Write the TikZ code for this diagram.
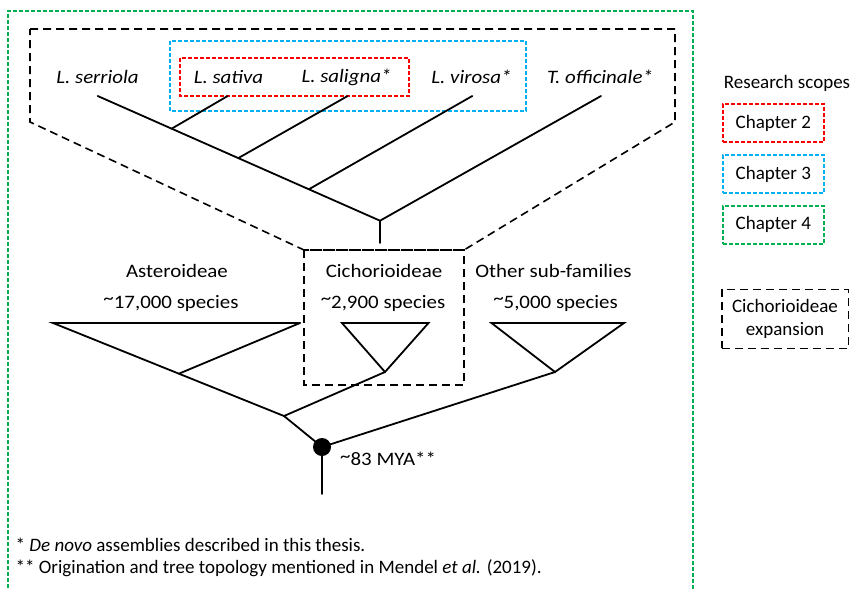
\documentclass[tikz,border=0pt]{standalone}
\usepackage{fontspec}
\setmainfont{Carlito}
\newfontfamily\widefont[FakeStretch=1.1]{Carlito}
\usetikzlibrary{calc}
\definecolor{chred}{RGB}{255,0,0}
\definecolor{chblue}{RGB}{0,176,240}
\definecolor{chgreen}{RGB}{0,176,80}
\newcommand\tld{\raisebox{0.35ex}{\textasciitilde}}
\begin{document}
\begin{tikzpicture}[x=1pt,y=-1pt,
  every node/.style={font=\fontsize{19}{23}\selectfont, inner sep=0pt},
  lbl/.style={font=\widefont\fontsize{19}{23}\selectfont},
  taxon/.style={font=\widefont\fontsize{19}{23}\itshape\selectfont},
  br/.style={line width=1.8pt, line cap=round},
  blkdash/.style={draw=black, line width=1.6pt, dash pattern=on 8pt off 5pt},
  reddash/.style={draw=chred, line width=1.6pt, dash pattern=on 4pt off 2pt},
  bluedash/.style={draw=chblue, line width=1.6pt, dash pattern=on 4pt off 2pt},
  greendash/.style={draw=chgreen, line width=1.3pt, dash pattern=on 4pt off 2pt},
  legbox/.style={draw, minimum width=101pt, minimum height=38pt}]
\useasboundingbox (0,0) rectangle (853,589);

% outer green scope (Chapter 4)
\draw[greendash] (8,600) -- (8,11) -- (693,11) -- (693,600);

% Cichorioideae expansion outline
\draw[blkdash] (30,29) -- (675,29) -- (675,122) -- (464,250) -- (304,250) -- (30,122) -- cycle;
\draw[blkdash] (304,250) rectangle (464,385);

% Chapter 3 and Chapter 2 scopes
\draw[bluedash] (170,41) rectangle (526,111);
\draw[reddash] (180,58) rectangle (409,96);

% taxon labels
\node[taxon] (serriola) at (97.5,77) {L. serriola};
\node[taxon] (sativa) at (228.5,77) {L. sativa};
\node[taxon] (saligna) at (346.5,77) {L. saligna*};
\node[taxon] (virosa) at (471.5,77) {L. virosa*};
\node[taxon] (offic) at (600,77) {T. officinale*};

% upper tree
\coordinate (tS) at (97.7,96);
\coordinate (tSa) at (227.7,96);
\coordinate (tSl) at (347.7,96);
\coordinate (tV) at (472.3,96);
\coordinate (tT) at (601,96);
\coordinate (j4) at (380,220.7);
\coordinate (j1) at ($(tS)!0.262!(j4)$);
\coordinate (j2) at ($(tS)!0.498!(j4)$);
\coordinate (j3) at ($(tS)!0.748!(j4)$);
\coordinate (cbase) at (380,243);
\draw[br] (tS) -- (j4) -- (tT);
\draw[br] (tSa) -- (j1);
\draw[br] (tSl) -- (j2);
\draw[br] (tV) -- (j3);
\draw[br] (j4) -- (cbase);

% subfamily labels
\node[lbl] (aster) at (177,271) {Asteroideae};
\node[lbl] (asterN) at (171,303) {\tld17,000 species};
\node[lbl] (cich) at (384,271) {Cichorioideae};
\node[lbl] (cichN) at (383,303) {\tld2,900 species};
\node[lbl] (other) at (553.5,271) {Other sub-families};
\node[lbl] (otherN) at (555.5,303) {\tld5,000 species};

% lower tree
\coordinate (aL) at (53,323);
\coordinate (aR) at (300,323);
\coordinate (r1) at (284,416);
\coordinate (aJ) at ($(aL)!0.545!(r1)$);
\coordinate (cL) at (342,323);
\coordinate (cR) at (428.5,323);
\coordinate (cA) at (385,372);
\coordinate (oL) at (491.5,323);
\coordinate (oR) at (624,323);
\coordinate (oA) at (555,372);
\coordinate (stem) at (322,494);
\draw[br] (aR) -- (aL) -- (r1);
\draw[br] (aR) -- (aJ);
\draw[br] (cL) -- (cR) -- (cA) -- cycle;
\draw[br] (oL) -- (oR) -- (oA) -- cycle;
\draw[br] (cA) -- (r1);
\node[circle, fill=black, minimum size=18pt] (root) at (322,447) {};
\draw[br] (r1) -- (root.center);
\draw[br] (oA) -- (root.center);
\draw[br] (root.center) -- (stem);
\node[lbl, anchor=west] (mya) at (340,459) {\tld83 MYA**};

% footnotes
\node[anchor=west] (fn1) at (15.5,545) {* \textit{De novo} assemblies described in this thesis.};
\node[anchor=west] (fn2) at (15.5,568) {** Origination and tree topology mentioned in Mendel \textit{et al.} (2019).};

% legend
\node (legtitle) at (787,83) {Research scopes};
\node[legbox, reddash] (ch2) at (773.3,123) {Chapter 2};
\node[legbox, bluedash] (ch3) at (773.3,174.2) {Chapter 3};
\node[legbox, greendash, line width=1.6pt] (ch4) at (773.3,224.7) {Chapter 4};
\node[blkdash, minimum width=126.6pt, minimum height=59pt, align=center] (exp) at (785,318.8) {Cichorioideae\\expansion};
\end{tikzpicture}
\end{document}
